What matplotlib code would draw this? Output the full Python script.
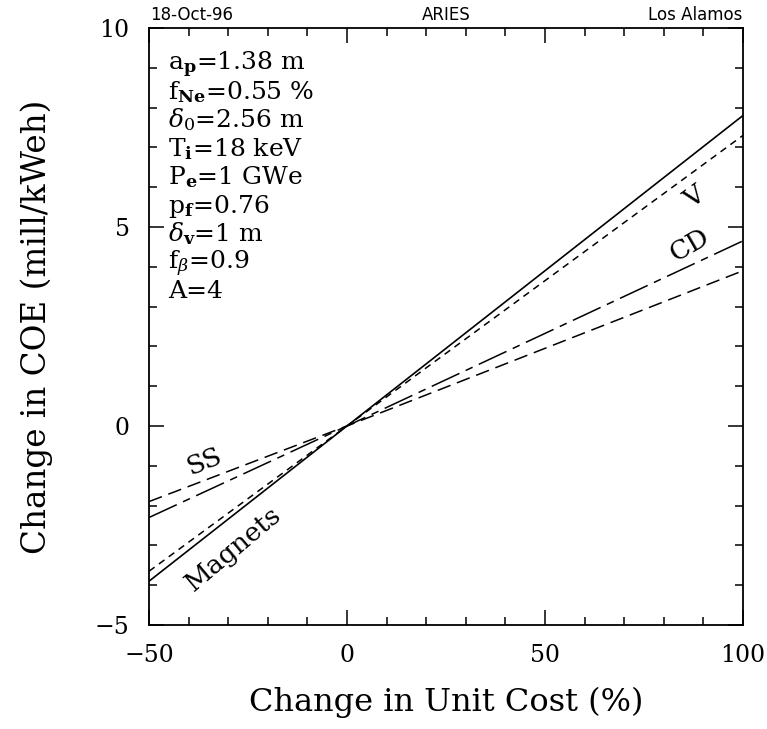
import matplotlib
matplotlib.use('Agg')
import matplotlib.pyplot as plt
from matplotlib.ticker import MultipleLocator

plt.rcParams['font.family'] = 'DejaVu Serif'
plt.rcParams['mathtext.fontset'] = 'dejavuserif'

# Variation du coût unitaire (%) et variation du COE (mill/kWeh)
cost_change = [-50, 0, 100]
coe_magnets = [-3.9, 0, 7.8]
coe_vessel = [-3.65, 0, 7.3]
coe_cd = [-2.3, 0, 4.65]
coe_ss = [-1.9, 0, 3.9]

# Paramètres du point de fonctionnement
params = [r'a$_\mathbf{p}$=1.38 m',
          r'f$_\mathbf{Ne}$=0.55 %',
          r'$\delta_0$=2.56 m',
          r'T$_\mathbf{i}$=18 keV',
          r'P$_\mathbf{e}$=1 GWe',
          r'p$_\mathbf{f}$=0.76',
          r'$\delta_\mathbf{v}$=1 m',
          r'f$_\beta$=0.9',
          'A=4']

fig = plt.figure(figsize=(7.67, 7.29), dpi=100)
ax = fig.add_axes([0.1943, 0.1427, 0.7744, 0.819])

ax.plot(cost_change, coe_magnets, color='black', lw=1.2)
ax.plot(cost_change, coe_vessel, color='black', lw=1.1, dashes=(4.5, 3.5))
ax.plot(cost_change, coe_cd, color='black', lw=1.1, dashes=(20, 4.5, 5, 4.5))
ax.plot(cost_change, coe_ss, color='black', lw=1.1, dashes=(9, 4.5))

ax.set_xlim(-50, 100)
ax.set_ylim(-5, 10)
ax.xaxis.set_major_locator(MultipleLocator(50))
ax.xaxis.set_minor_locator(MultipleLocator(10))
ax.yaxis.set_major_locator(MultipleLocator(5))
ax.yaxis.set_minor_locator(MultipleLocator(1))
ax.tick_params(which='both', direction='in', top=True, right=True, width=1.1)
ax.tick_params(which='major', length=11, pad=14, labelsize=17)
ax.tick_params(which='minor', length=5.5)
for s in ax.spines.values():
    s.set_linewidth(1.3)

ax.set_xlabel('Change in Unit Cost (%)', fontsize=23, labelpad=14)
ax.set_ylabel('Change in COE (mill/kWeh)', fontsize=23.5, labelpad=30)

# Noms des courbes
ax.text(87.8, 5.75, 'V', fontsize=19, rotation=36, ha='center', va='center')
ax.text(86.6, 4.55, 'CD', fontsize=19, rotation=30, ha='center', va='center')
ax.text(-36.0, -0.9, 'SS', fontsize=19, rotation=22, ha='center', va='center')
ax.text(-28.8, -3.1, 'Magnets', fontsize=19, rotation=40, ha='center', va='center')

# Liste des paramètres en haut à gauche
for i, p in enumerate(params):
    ax.text(-45.2, 8.93 - i * 0.714, p, fontsize=18, ha='left', va='baseline')

fig.text(0.1955, 0.972, '18-Oct-96', family='DejaVu Sans', fontsize=12, ha='left', va='baseline')
fig.text(0.5815, 0.972, 'ARIES', family='DejaVu Sans', fontsize=12, ha='center', va='baseline')
fig.text(0.968, 0.972, 'Los Alamos', family='DejaVu Sans', fontsize=12, ha='right', va='baseline')

fig.savefig('out.png', dpi=100)
